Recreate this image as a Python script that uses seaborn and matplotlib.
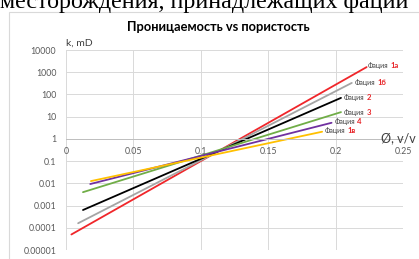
import matplotlib
matplotlib.use("Agg")
import matplotlib.pyplot as plt
import matplotlib.patches as patches
import seaborn as sns
import pandas as pd

# facies names and the two end points of each trend line
facies = ["1а", "1б", "2", "3", "4", "1в"]
phi_start = [0.004, 0.009, 0.0126, 0.0126, 0.018, 0.0185]
phi_end = [0.223, 0.212, 0.204, 0.204, 0.197, 0.190]
k_start = [5e-5, 1.6e-4, 6.3e-4, 4e-3, 9.3e-3, 1.26e-2]
k_end = [1700, 330, 70, 16, 5.3, 2.1]
colors = ["#F0262A", "#A5A5A5", "#000000", "#70AD47", "#7030A0", "#FFC000"]

x_ticks = [0, 0.05, 0.1, 0.15, 0.2, 0.25]
x_labels = ["0", "0.05", "0.1", "0.15", "0.2", "0.25"]
y_ticks = [1e-5, 1e-4, 1e-3, 1e-2, 1e-1, 1, 10, 100, 1000, 10000]
y_labels = ["0.00001", "0.0001", "0.001", "0.01", "0.1", "1", "10", "100", "1000", "10000"]

rows = []
for f, x0, x1, y0, y1 in zip(facies, phi_start, phi_end, k_start, k_end):
    rows.append({"facies": f, "phi": x0, "k": y0})
    rows.append({"facies": f, "phi": x1, "k": y1})
df = pd.DataFrame(rows)

sns.set_style("white")
plt.rcParams["font.family"] = ["Lato", "DejaVu Sans"]

fig = plt.figure(figsize=(4.19, 2.59), dpi=100)
ax = fig.add_axes([66 / 419, 1 - 250 / 259, 337 / 419, 200 / 259])

# chart frame (right edge runs off the picture)
fig.patches.append(patches.Rectangle((9 / 419, -0.01), 420 / 419, 1 - 12 / 259 + 0.01,
                                     transform=fig.transFigure, fill=False,
                                     edgecolor="#D9D9D9", linewidth=0.8))

sns.lineplot(data=df, x="phi", y="k", hue="facies", palette=colors,
             hue_order=facies, linewidth=1.3, legend=False, ax=ax)

ax.set_yscale("log")
ax.set_xlim(0, 0.25)
ax.set_ylim(1e-5, 1e4)
ax.set_xticks(x_ticks)
ax.set_xticklabels(x_labels)
ax.set_yticks(y_ticks)
ax.set_yticklabels(y_labels)
ax.minorticks_off()
ax.tick_params(axis="both", length=0, labelsize=6.3, labelcolor="#595959")
ax.tick_params(axis="y", pad=7)
ax.tick_params(axis="x", pad=6)
ax.grid(True, color="#D9D9D9", linewidth=0.7)
ax.set_axisbelow(True)
ax.set_xlabel("")
ax.set_ylabel("")

for s in ["top", "right", "left"]:
    ax.spines[s].set_visible(False)
ax.spines["bottom"].set_position(("data", 1))
ax.spines["bottom"].set_color("#BFBFBF")
ax.spines["bottom"].set_linewidth(0.7)

# labels at the end of lines
offsets = [(1, 1), (2, 0), (2, 0), (2, 0), (2, 1), (2, 1)]
for f, x1, y1, c, (dx, dy) in zip(facies, phi_end, k_end, colors, offsets):
    ax.annotate("Фация", xy=(x1, y1), xytext=(dx, dy), textcoords="offset points",
                fontsize=5, color="#404040", va="center", ha="left")
    ax.annotate(f, xy=(x1, y1), xytext=(dx + 16.5, dy), textcoords="offset points",
                fontsize=5.5, color="#E8262A", fontweight="bold", va="center", ha="left")

fig.text(66 / 419, 1 - 48 / 259, "k, mD", fontsize=7.5, color="#404040",
         ha="left", va="bottom")
fig.text(416 / 419, 1 - 138 / 259, "Ø, v/v", fontsize=9, color="#404040",
         ha="right", va="center")
fig.text(218 / 419, 1 - 27 / 259, "Проницаемость vs пористость", fontsize=9.3,
         fontweight="bold", color="#000000", ha="center", va="center")

# clipped line of document text above the chart
fig.text(204 / 419, 1 - 8 / 259, "месторождения, принадлежащих фации",
         family="Liberation Serif", fontsize=17.3, color="#000000",
         ha="center", va="baseline")

fig.savefig("out.png", dpi=100)
